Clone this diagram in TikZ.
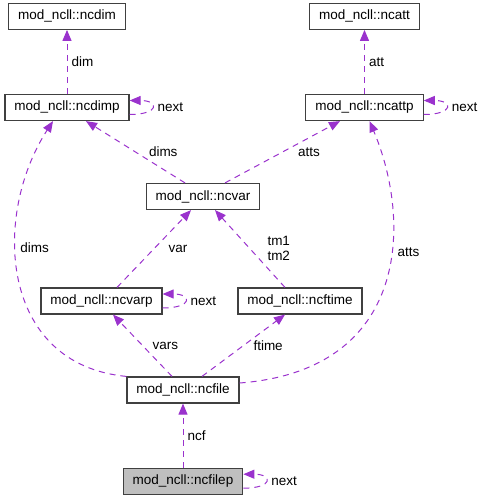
\documentclass[tikz,border=0pt]{standalone}
\usepackage{fontspec}
\setmainfont{Liberation Sans}
\usepackage{xcolor}
\usepackage{tikz}
\usetikzlibrary{arrows.meta,positioning}
\usetikzlibrary{calc}
\definecolor{orchid}{HTML}{9A32CD}
\definecolor{boxline}{HTML}{404040}

\begin{document}
\begin{tikzpicture}[
                    x=1pt, y=1pt,
                    every node/.style={font=\fontsize{13.5pt}{15pt}\selectfont},
                    klass/.style={draw=boxline, line width=1.2pt, rectangle, minimum height=26pt, inner xsep=9.5pt, inner ysep=0pt, fill=white},
                    current/.style={klass, fill=black!25},
                    rel/.style={-{Triangle[length=11pt,width=9pt]}, orchid, line width=1pt, dash pattern=on 6pt off 5pt},
                    note/.style={inner sep=1pt, align=center, text=black},
                    node distance=64pt
                ]
                    \useasboundingbox (0,0) rectangle (483,-499);

                    % Classes
                    \node[klass] (ncdimp) at (67,-107.5) {mod\_ncll::ncdimp};
                    \node[klass, above=of ncdimp] (ncdim) {mod\_ncll::ncdim};
                    \node[klass] (ncattp) at (364.5,-107.5) {mod\_ncll::ncattp};
                    \node[klass, above=of ncattp] (ncatt) {mod\_ncll::ncatt};
                    \node[klass] (ncvar) at (203,-196.5) {mod\_ncll::ncvar};
                    \node[klass] (ncvarp) at (101.5,-301) {mod\_ncll::ncvarp};
                    \node[klass] (ncftime) at (300,-301) {mod\_ncll::ncftime};
                    \node[klass] (ncfile) at (183,-390) {mod\_ncll::ncfile};
                    \node[current, below=of ncfile] (ncfilep) {mod\_ncll::ncfilep};

                    % Members
                    \draw[rel] (ncdimp.north) -- node[note, right=3pt]{dim} (ncdim.south);
                    \draw[rel] (ncattp.north) -- node[note, right=3pt]{att} (ncatt.south);
                    \draw[rel] ([xshift=-18pt]ncvar.north) -- node[note, right=12pt]{dims} ([xshift=19pt]ncdimp.south);
                    \draw[rel] ([xshift=22pt]ncvar.north) -- node[note, right=14pt]{atts} ([xshift=-24.5pt]ncattp.south);
                    \draw[rel] ([xshift=15.5pt]ncvarp.north) -- node[note, right=13pt]{var} ([xshift=-12pt]ncvar.south);
                    \draw[rel] ([xshift=-15pt]ncftime.north) -- node[note, right=16pt]{tm1\\tm2} ([xshift=12pt]ncvar.south);
                    \draw[rel] ([xshift=-11pt]ncfile.north) -- node[note, right=8.5pt]{vars} ([xshift=11.5pt]ncvarp.south);
                    \draw[rel] ([xshift=19pt]ncfile.north) -- node[note, right=8.5pt]{ftime} ([xshift=-15pt]ncftime.south);
                    \draw[rel] (ncfilep.north) -- node[note, right=3pt]{ncf} (ncfile.south);
                    \draw[rel] (ncfile.north west) .. controls +(-127,12) and +(-61,-94) .. node[note, pos=0.6, right=3pt]{dims} ([xshift=-14pt]ncdimp.south);
                    \draw[rel] ([yshift=7pt]ncfile.east) .. controls +(171,13) and +(42,-99) .. node[note, pos=0.6, right=5pt]{atts} ([xshift=5pt]ncattp.south);

                    % Linked lists
                    \draw[rel] ([yshift=-7pt]ncdimp.east) .. controls +(30,0) and +(30,0) .. node[note, right=4pt]{next} ([yshift=7pt]ncdimp.east);
                    \draw[rel] ([yshift=-7pt]ncattp.east) .. controls +(30,0) and +(30,0) .. node[note, right=4pt]{next} ([yshift=7pt]ncattp.east);
                    \draw[rel] ([yshift=-7pt]ncvarp.east) .. controls +(30,0) and +(30,0) .. node[note, right=4pt]{next} ([yshift=7pt]ncvarp.east);
                    \draw[rel] ([yshift=-7pt]ncfilep.east) .. controls +(30,0) and +(30,0) .. node[note, right=4pt]{next} ([yshift=7pt]ncfilep.east);
                \end{tikzpicture}
\end{document}
